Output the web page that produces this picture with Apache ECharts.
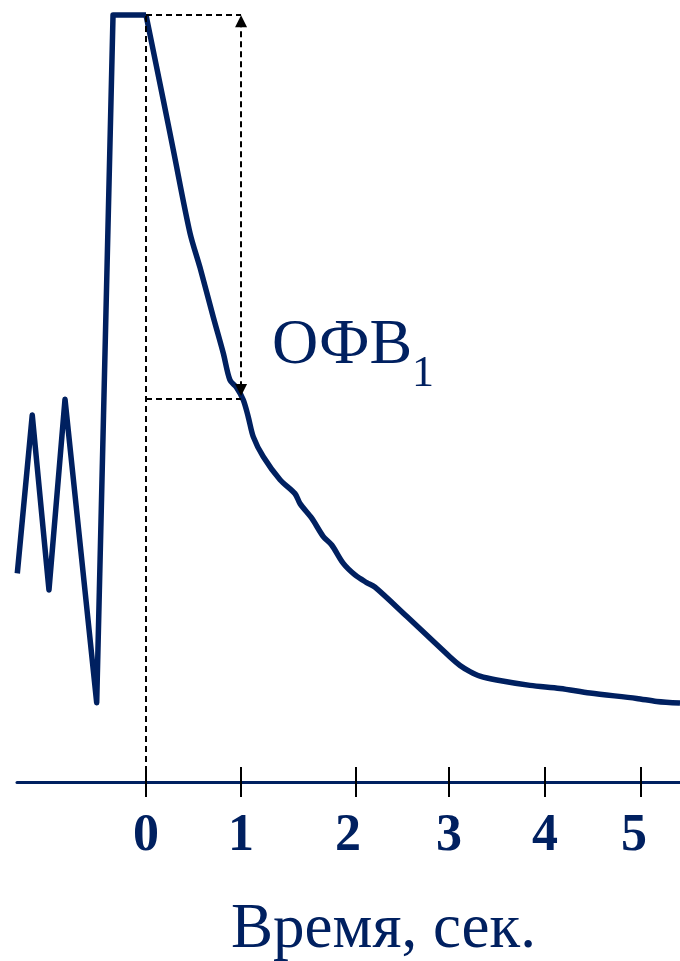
<!DOCTYPE html>
<html>
<head>
<meta charset="utf-8">
<script src="https://cdn.jsdelivr.net/npm/echarts@6/dist/echarts.min.js"></script>
<style>
html,body{margin:0;padding:0;background:#fff;}
#chart{width:680px;height:961px;}
</style>
</head>
<body>
<div id="chart"></div>
<script>
// Time (s) of each sample of the flow curve
var timeSec = [-1.30, -1.149, -0.980, -0.818, -0.498, -0.333, 0.0,
  0.175, 0.276, 0.444, 0.545, 0.680, 0.781, 0.848, 0.916, 0.983, 1.033,
  1.084, 1.185, 1.354, 1.505, 1.556, 1.674, 1.791, 1.876, 1.993, 2.111,
  2.229, 2.313, 2.633, 3.071, 3.172, 3.273, 3.374, 3.542, 3.879, 4.182,
  4.485, 4.956, 5.159, 5.394];
// Flow / volume signal (arbitrary units)
var flowValues = [2.72, 4.785, 2.503, 4.99, 1.034, 10, 10,
  8.89, 8.24, 7.16, 6.71, 6.06, 5.59, 5.24, 5.14, 4.98, 4.76,
  4.50, 4.24, 3.94, 3.76, 3.63, 3.44, 3.20, 3.09, 2.85, 2.70,
  2.60, 2.54, 2.16, 1.63, 1.52, 1.44, 1.38, 1.33, 1.26, 1.22,
  1.16, 1.09, 1.05, 1.03];
// Index where the forced expiration starts (end of plateau)
var expirationStart = 6;
// Tick marks and labels on the time axis
var tickPositions = [0, 0.96, 2.12, 3.06, 4.03, 5.0];
var labelPositions = [0, 0.96, 2.04, 3.06, 4.03, 4.93];
var tickLabels = ['0', '1', '2', '3', '4', '5'];
// FEV1 annotation values
var peakValue = 10;
var fev1Time = 0.96;
var fev1Value = 5.0;
var xMin = -1.303, xMax = 5.394;

var NAVY = '#002060';
var SERIF = "'Liberation Serif','Times New Roman',serif";

var data = timeSec.map(function (t, i) { return [t, flowValues[i]]; });
var breathingPart = data.slice(0, expirationStart + 1);
var expirationPart = data.slice(expirationStart);

var dashStyle = { color: '#000', width: 2, type: [6, 4] };
var lineStyle = { color: NAVY, width: 5.5, join: 'round', cap: 'butt' };

var chart = echarts.init(document.getElementById('chart'), null, { renderer: 'canvas' });
chart.setOption({
  animation: false,
  backgroundColor: '#fff',
  grid: { left: 17, right: 0, top: 15, bottom: 179, containLabel: false, outerBoundsMode: 'none' },
  xAxis: [{
    type: 'value', min: xMin, max: xMax, position: 'bottom',
    splitLine: { show: false },
    axisLine: { show: true, lineStyle: { color: NAVY, width: 3 } },
    axisTick: { show: true, inside: false, length: 15, customValues: tickPositions,
      lineStyle: { color: '#000', width: 2 } },
    axisLabel: {
      show: true, customValues: labelPositions, margin: 29,
      formatter: function (v) {
        var idx = labelPositions.indexOf(v);
        return idx >= 0 ? tickLabels[idx] : '';
      },
      color: NAVY, fontFamily: SERIF, fontWeight: 'bold', fontSize: 52
    },
    name: 'Время, сек.', nameLocation: 'middle', nameGap: 117,
    nameTextStyle: { color: NAVY, fontFamily: SERIF, fontSize: 63, padding: [0, 0, 0, 70] }
  }, {
    type: 'value', min: xMin, max: xMax, position: 'bottom',
    splitLine: { show: false },
    axisLine: { show: false },
    axisTick: { show: true, inside: true, length: 15, customValues: tickPositions,
      lineStyle: { color: '#000', width: 2 } },
    axisLabel: { show: false }
  }],
  yAxis: { type: 'value', min: 0, max: 10, show: false },
  series: [{
    type: 'line',
    data: breathingPart,
    showSymbol: false,
    clip: false,
    smooth: false,
    lineStyle: lineStyle,
    z: 3,
    markLine: {
      silent: true,
      symbol: 'none',
      label: { show: false },
      lineStyle: dashStyle,
      data: [
        [{ coord: [0, 0] }, { coord: [0, peakValue] }],
        [{ coord: [0, peakValue] }, { coord: [fev1Time, peakValue] }],
        [{ coord: [0, fev1Value] }, { coord: [fev1Time, fev1Value] }],
        [{ coord: [fev1Time, peakValue - 0.08], symbol: 'triangle', symbolSize: [12, 12] },
         { coord: [fev1Time, fev1Value + 0.11], symbol: 'triangle', symbolSize: [12, 12] }]
      ]
    }
  }, {
    type: 'line',
    data: expirationPart,
    showSymbol: false,
    clip: false,
    smooth: 0.3,
    lineStyle: lineStyle,
    z: 3
  }],
  graphic: [{
    type: 'text', left: 272, top: 314,
    style: { text: 'ОФВ', fill: NAVY, font: '64px ' + SERIF }
  }, {
    type: 'text', left: 412, top: 352,
    style: { text: '1', fill: NAVY, font: '44px ' + SERIF }
  }]
});
</script>
</body>
</html>
